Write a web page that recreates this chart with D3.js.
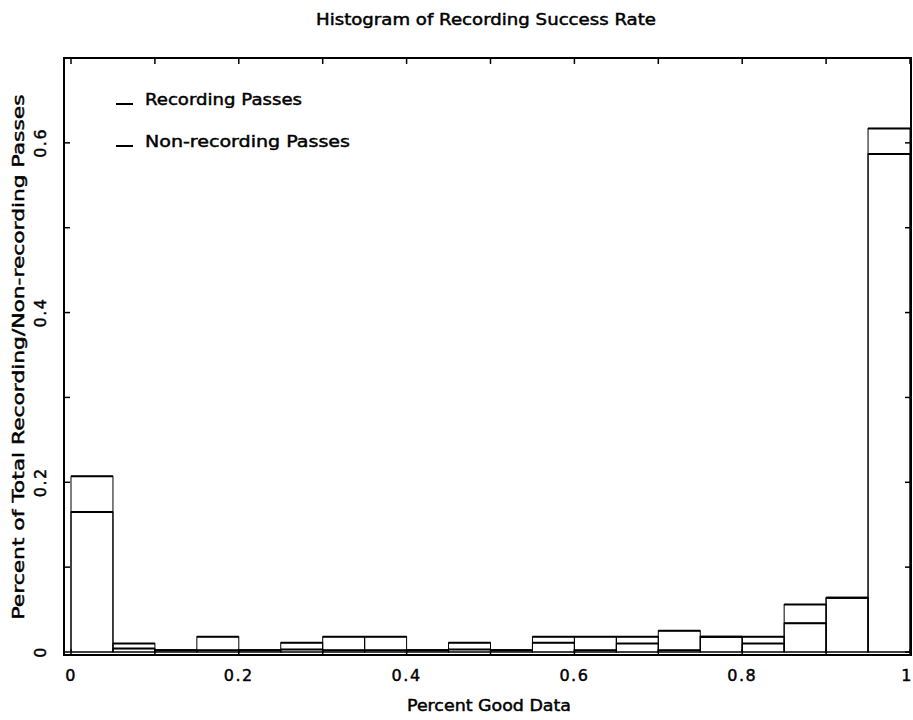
<!DOCTYPE html>
<html>
<head>
<meta charset="utf-8">
<script src="https://cdn.jsdelivr.net/npm/d3@7"></script>
<style>
  body { margin: 0; background: #fff; }
  text { font-family: "DejaVu Sans", sans-serif; fill: #000; stroke: #000; stroke-width: 0.45px; }
</style>
</head>
<body>
<svg id="chart" width="913" height="720"></svg>
<script>
// ---- data ----
const binStarts = [0, 0.05, 0.1, 0.15, 0.2, 0.25, 0.3, 0.35, 0.4, 0.45, 0.5, 0.55, 0.6, 0.65, 0.7, 0.75, 0.8, 0.85, 0.9, 0.95];
const binWidth = 0.05;
const recording = [0.165, 0.010, 0.002, 0.018, 0.002, 0.011, 0.018, 0.018, 0.002, 0.011, 0.002, 0.011, 0.018, 0.010, 0.025, 0.018, 0.010, 0.034, 0.064, 0.617];
const nonRecording = [0.207, 0.004, 0.002, 0.002, 0.002, 0.003, 0.002, 0.002, 0.002, 0.003, 0.002, 0.018, 0.002, 0.018, 0.002, 0.018, 0.018, 0.056, 0.064, 0.587];
const seriesNames = ["Recording Passes", "Non-recording Passes"];
const xTickLabels = [0, 0.2, 0.4, 0.6, 0.8, 1];
const yTickLabels = [0, 0.2, 0.4, 0.6];
const title = "Histogram of Recording Success Rate";
const xTitle = "Percent Good Data";
const yTitle = "Percent of Total Recording/Non-recording Passes";

// ---- layout ----
const svg = d3.select("#chart");
const x = d3.scaleLinear().domain([0, 1]).range([71, 910]);
const y = d3.scaleLinear().domain([0, 0.7]).range([652, 58]);
const frame = { left: 64, right: 911, top: 58, bottom: 655 };

// frame
svg.append("rect")
  .attr("x", frame.left).attr("y", frame.top)
  .attr("width", frame.right - frame.left).attr("height", frame.bottom - frame.top)
  .attr("fill", "none").attr("stroke", "#000").attr("stroke-width", 2);

// minor ticks (every 0.1)
const xMinor = d3.range(0, 1.0001, 0.1);
const yMinor = d3.range(0, 0.70001, 0.1);
svg.append("g").selectAll("line").data(xMinor).join("line")
  .attr("x1", d => x(d)).attr("x2", d => x(d))
  .attr("y1", frame.top).attr("y2", frame.top + 6)
  .attr("stroke", "#000").attr("stroke-width", 1.5);
svg.append("g").selectAll("line").data(xMinor).join("line")
  .attr("x1", d => x(d)).attr("x2", d => x(d))
  .attr("y1", frame.bottom).attr("y2", frame.bottom - 6)
  .attr("stroke", "#000").attr("stroke-width", 1.5);
svg.append("g").selectAll("line").data(yMinor).join("line")
  .attr("x1", frame.left).attr("x2", frame.left + 6)
  .attr("y1", d => y(d)).attr("y2", d => y(d))
  .attr("stroke", "#000").attr("stroke-width", 1.5);
svg.append("g").selectAll("line").data(yMinor).join("line")
  .attr("x1", frame.right).attr("x2", frame.right - 6)
  .attr("y1", d => y(d)).attr("y2", d => y(d))
  .attr("stroke", "#000").attr("stroke-width", 1.5);

// tick labels
const fmt = d => d === 0 ? "0" : (d === 1 ? "1" : d3.format(".1f")(d));
svg.append("g").selectAll("text").data(xTickLabels).join("text")
  .attr("x", d => x(d) - (d === 1 ? 3 : 0)).attr("y", 681)
  .attr("text-anchor", "middle").attr("font-size", 16)
  .attr("letter-spacing", 1.5)
  .text(fmt);
svg.append("g").selectAll("text").data(yTickLabels).join("text")
  .attr("transform", d => `translate(46,${y(d)}) rotate(-90)`)
  .attr("text-anchor", "middle").attr("font-size", 16)
  .attr("letter-spacing", 1.5)
  .text(fmt);

// bars
const data = [recording, nonRecording];
data.forEach(vals => {
  const g = svg.append("g");
  g.selectAll("rect").data(vals).join("rect")
    .attr("x", (d, i) => x(binStarts[i]))
    .attr("width", (d, i) => x(binStarts[i] + binWidth) - x(binStarts[i]))
    .attr("y", d => y(d))
    .attr("height", d => y(0) - y(d))
    .attr("fill", "none").attr("stroke", "#000").attr("stroke-width", 1);
  g.selectAll("line").data(vals).join("line")
    .attr("x1", (d, i) => x(binStarts[i]))
    .attr("x2", (d, i) => x(binStarts[i] + binWidth))
    .attr("y1", d => y(d)).attr("y2", d => y(d))
    .attr("stroke", "#000").attr("stroke-width", 2);
});

// legend
seriesNames.forEach((name, i) => {
  const ly = 99 + i * 42;
  svg.append("line")
    .attr("x1", 116).attr("x2", 133)
    .attr("y1", ly + 5).attr("y2", ly + 5)
    .attr("stroke", "#000").attr("stroke-width", 2);
  svg.append("text")
    .attr("x", 145).attr("y", ly + 6)
    .attr("font-size", 16)
    .attr("textLength", i === 0 ? 157 : 205).attr("lengthAdjust", "spacingAndGlyphs")
    .text(name);
});

// titles
svg.append("text")
  .attr("x", 486).attr("y", 25).attr("text-anchor", "middle")
  .attr("font-size", 15)
  .attr("textLength", 340).attr("lengthAdjust", "spacingAndGlyphs")
  .text(title);
svg.append("text")
  .attr("x", 489).attr("y", 711).attr("text-anchor", "middle")
  .attr("font-size", 15)
  .attr("textLength", 164).attr("lengthAdjust", "spacingAndGlyphs")
  .text(xTitle);
svg.append("text")
  .attr("transform", "translate(24,357) rotate(-90)")
  .attr("text-anchor", "middle").attr("font-size", 16)
  .attr("textLength", 525).attr("lengthAdjust", "spacingAndGlyphs")
  .text(yTitle);
</script>
</body>
</html>
